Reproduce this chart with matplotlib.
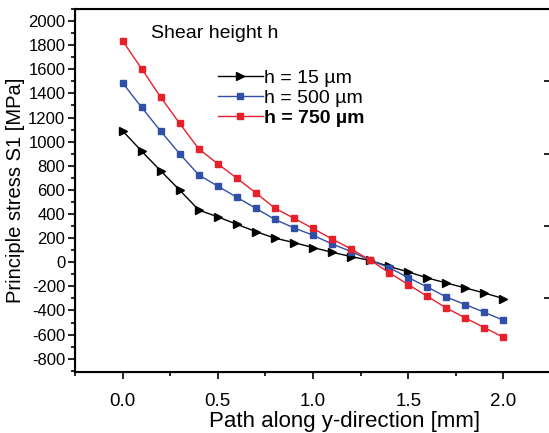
import matplotlib.pyplot as plt
from matplotlib.ticker import MultipleLocator

plt.rcParams['font.family'] = ['Liberation Sans', 'DejaVu Sans']
plt.rcParams['axes.unicode_minus'] = False

path_mm = [0.0, 0.1, 0.2, 0.3, 0.4, 0.5, 0.6, 0.7, 0.8, 0.9, 1.0,
           1.1, 1.2, 1.3, 1.4, 1.5, 1.6, 1.7, 1.8, 1.9, 2.0]

s1_h15 = [1090, 921, 758, 598, 433, 376, 315, 254, 200, 163, 122,
          83, 47, 15, -35, -80, -130, -172, -213, -255, -301]
s1_h500 = [1488, 1284, 1087, 899, 724, 631, 539, 447, 355, 285, 224,
           152, 89, 17, -45, -127, -205, -288, -351, -415, -481]
s1_h750 = [1836, 1604, 1369, 1151, 940, 816, 697, 575, 448, 365, 280,
           193, 110, 17, -86, -185, -282, -379, -462, -542, -622]

labels = ["h = 15 µm", "h = 500 µm", "h = 750 µm"]

fig = plt.figure(figsize=(5.49, 4.33), dpi=100)
ax = fig.add_axes([75 / 549, 1 - 372 / 433, 476 / 549, 363 / 433])

ax.plot(path_mm, s1_h15, color='black', lw=1, marker='>', ms=5.5,
        label=labels[0])
ax.plot(path_mm, s1_h500, color='#3050a8', lw=1, marker='s', ms=5,
        label=labels[1])
ax.plot(path_mm, s1_h750, color='#e8202a', lw=1, marker='s', ms=5,
        label=labels[2])

ax.set_xlim(-0.25, 2.25)
ax.set_ylim(-910, 2100)
ax.xaxis.set_major_locator(MultipleLocator(0.5))
ax.xaxis.set_minor_locator(MultipleLocator(0.25))
ax.yaxis.set_minor_locator(MultipleLocator(100))
ax.xaxis.set_major_formatter(plt.FormatStrFormatter('%.1f'))
ax.set_yticks(range(-800, 2001, 200))

ax.tick_params(which='both', direction='out', top=False, right=False,
               width=1.2)
ax.tick_params(which='major', length=5)
ax.tick_params(which='minor', length=3)
ax.tick_params(axis='y', which='major', labelsize=12, pad=2)
ax.tick_params(axis='x', which='major', labelsize=13.5, pad=10)
for s in ax.spines.values():
    s.set_linewidth(1.5)

# ticks on the right border (inside)
ax2 = ax.twinx()
ax2.set_ylim(ax.get_ylim())
ax2.set_yticks([1500, 900, 300, -300])
ax2.tick_params(direction='in', length=5, width=1.2, labelright=False)

ax.set_xlabel("Path along y-direction [mm]", fontsize=16)
ax.xaxis.set_label_coords(0.567, -0.108)
ax.set_ylabel("Principle stress S1 [MPa]", fontsize=14.5, labelpad=2)

ax.text(0.15, 1900, "Shear height h", fontsize=14, va='center')
leg = ax.legend(loc='upper left', bbox_to_anchor=(0.28, 0.86), frameon=False,
                fontsize=14, handlelength=2.3, handletextpad=0.05,
                labelspacing=0.12, borderpad=0)
leg.get_texts()[2].set_fontweight('bold')

fig.savefig("out.png", dpi=100)
